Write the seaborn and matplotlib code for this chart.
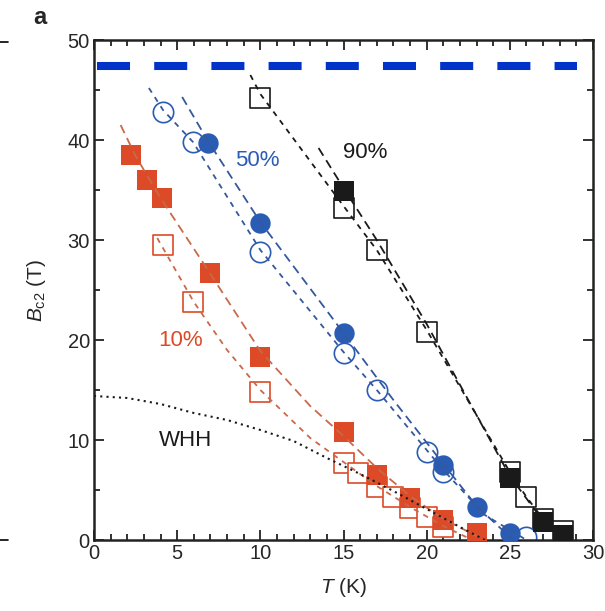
import matplotlib
matplotlib.use("Agg")
import matplotlib.pyplot as plt
import seaborn as sns
import pandas as pd
from matplotlib.lines import Line2D

# ---------------- data ----------------
# 10 % criterion (red)
t10_fill = [2.2, 3.2, 4.1, 7.0, 10.0, 15.0, 17.0, 19.0, 21.0, 23.0]
b10_fill = [38.5, 36.0, 34.2, 26.7, 18.3, 10.8, 6.5, 4.2, 2.0, 0.7]
t10_open = [4.15, 5.95, 10.0, 15.0, 15.9, 17.0, 18.0, 19.0, 20.0, 21.0]
b10_open = [29.5, 23.8, 14.8, 7.7, 6.7, 5.3, 4.3, 3.2, 2.3, 1.3]
# 50 % criterion (blue)
t50_fill = [6.85, 10.0, 15.0, 21.0, 23.0, 25.0]
b50_fill = [39.7, 31.7, 20.7, 7.5, 3.3, 0.7]
t50_open = [4.15, 5.95, 10.0, 15.0, 17.0, 20.0, 21.0, 26.0]
b50_open = [42.8, 39.8, 28.8, 18.7, 15.0, 8.8, 6.8, 0.3]
# 90 % criterion (black)
t90_fill = [15.0, 25.0, 27.0, 28.2]
b90_fill = [34.9, 6.2, 1.8, 0.5]
t90_open = [10.0, 15.0, 17.0, 20.0, 25.0, 26.0, 27.0, 28.2]
b90_open = [44.2, 33.2, 29.0, 20.8, 6.8, 4.3, 2.1, 0.9]

# dashed guide curves (vertices)
fit10f_t = [1.6, 2.5, 4.0, 7.0, 10.0, 13.0, 15.0, 17.0, 19.0, 21.0, 23.0]
fit10f_b = [41.5, 38.4, 34.2, 26.6, 18.9, 13.4, 10.4, 7.2, 4.4, 2.1, 0.4]
fit10o_t = [3.8, 6.0, 8.0, 10.0, 13.0, 15.0, 17.0, 19.0, 21.0, 22.5]
fit10o_b = [30.2, 23.8, 19.0, 15.0, 10.2, 7.8, 5.4, 3.3, 1.4, 0.2]
fit50f_t = [5.3, 6.85, 10.0, 15.0, 18.0, 21.0, 23.0, 25.2]
fit50f_b = [44.3, 39.9, 31.8, 20.7, 14.0, 7.6, 3.4, 0.0]
fit50o_t = [3.3, 4.15, 5.95, 10.0, 15.0, 17.0, 20.0, 21.0, 23.5, 26.0]
fit50o_b = [45.2, 43.0, 39.8, 29.0, 18.8, 15.0, 9.0, 7.0, 2.5, 0.0]
fit90o_t = [9.4, 10.0, 15.0, 17.0, 20.0, 25.0, 26.0, 27.0, 28.3]
fit90o_b = [46.5, 44.6, 33.4, 29.0, 21.0, 6.8, 4.3, 2.1, 0.3]
fit90f_t = [13.5, 15.0, 17.0, 20.0, 25.0, 27.0, 28.4]
fit90f_b = [39.2, 35.2, 30.0, 21.6, 6.4, 1.9, 0.0]
# WHH curve
whh_t = [0.0, 2.0, 4.0, 6.0, 8.0, 10.0, 12.0, 14.0, 16.0, 18.0, 20.0, 22.0, 23.5]
whh_b = [14.4, 14.2, 13.6, 12.7, 12.0, 11.0, 9.9, 8.2, 6.6, 4.9, 3.1, 1.3, 0.0]
# horizontal blue dashed level
hline_b = 47.4

# ---------------- style ----------------
sns.set_theme(style="ticks")
plt.rcParams["font.family"] = ["Liberation Sans", "DejaVu Sans"]
plt.rcParams["mathtext.fontset"] = "custom"
plt.rcParams["mathtext.it"] = "Liberation Sans:italic"
plt.rcParams["mathtext.rm"] = "Liberation Sans"

RED = "#dc4a27"
RED_LINE = "#c9694a"
BLUE = "#2b5cb4"
BLUE_LINE = "#34589c"
BLUE_TOP = "#0034c8"
BLACK = "#1a1a1a"

fig = plt.figure(figsize=(6.05, 6.11), dpi=100)
ax = fig.add_axes([94 / 605, 1 - 540 / 611, (593 - 94) / 605, (540 - 40) / 611])

MS = 215

def scat(t, b, color, marker, filled):
    df = pd.DataFrame({"T": t, "B": b})
    if filled:
        sns.scatterplot(data=df, x="T", y="B", ax=ax, marker=marker, s=MS,
                        color=color, edgecolor=color, linewidth=0, zorder=3)
    else:
        sns.scatterplot(data=df, x="T", y="B", ax=ax, marker=marker, s=MS,
                        facecolor="white", edgecolor=color, linewidth=1.2, zorder=2)

def line(t, b, color, dashes, lw=1.3, z=4):
    df = pd.DataFrame({"T": t, "B": b})
    sns.lineplot(data=df, x="T", y="B", ax=ax, color=color, lw=lw, sort=False,
                 estimator=None, linestyle=(0, dashes), zorder=z)

# open markers first, then filled
scat(t90_open, b90_open, BLACK, "s", False)
scat(t50_open, b50_open, BLUE, "o", False)
scat(t10_open, b10_open, RED, "s", False)
scat(t90_fill, b90_fill, BLACK, "s", True)
scat(t50_fill, b50_fill, BLUE, "o", True)
scat(t10_fill, b10_fill, RED, "s", True)

line(fit10f_t, fit10f_b, RED_LINE, (5, 3))
line(fit10o_t, fit10o_b, RED_LINE, (3, 3))
line(fit50f_t, fit50f_b, BLUE_LINE, (5, 3))
line(fit50o_t, fit50o_b, BLUE_LINE, (3, 3))
line(fit90f_t, fit90f_b, BLACK, (5, 3))
line(fit90o_t, fit90o_b, BLACK, (3, 3))
line(whh_t, whh_b, BLACK, (1, 2), lw=1.5)

ax.axhline(hline_b, xmin=3 / 499, xmax=483 / 499, color=BLUE_TOP, lw=5.8,
           linestyle=(0, (4.1, 3.0)), zorder=5)

# ---------------- axes ----------------
ax.set_xlim(0, 30)
ax.set_ylim(0, 50)
ax.set_xticks([0, 5, 10, 15, 20, 25, 30])
ax.set_yticks([0, 10, 20, 30, 40, 50])
ax.set_xticks(range(0, 31), minor=True)
ax.set_yticks(range(0, 51, 5), minor=True)
ax.tick_params(which="both", direction="in", top=True, right=True,
               width=1.3, color="#222222", labelsize=14.5, pad=3)
ax.tick_params(which="major", length=7)
ax.tick_params(which="minor", length=4)
for sp in ax.spines.values():
    sp.set_linewidth(1.8)
    sp.set_color("#222222")
    sp.set_visible(True)

ax.set_xlabel(r"$\mathit{T}$ (K)", fontsize=15, labelpad=9)
ax.set_ylabel(r"$\mathit{B}_{\mathrm{c2}}$ (T)", fontsize=15, labelpad=14)

ax.text(9.8, 38.0, "50%", color=BLUE, fontsize=16, ha="center", va="center")
ax.text(16.3, 38.7, "90%", color=BLACK, fontsize=16, ha="center", va="center")
ax.text(5.2, 19.9, "10%", color=RED, fontsize=16, ha="center", va="center")
ax.text(5.5, 10.0, "WHH", color=BLACK, fontsize=16, ha="center", va="center")

fig.text(40 / 605, 1 - 18 / 611, "a", fontsize=17, fontweight="bold",
         ha="center", va="center")
# small crop marks at the left edge
fig.add_artist(Line2D([0, 8 / 605], [1 - 42 / 611] * 2, color="black", lw=1.2))
fig.add_artist(Line2D([0, 8 / 605], [1 - 540 / 611] * 2, color="black", lw=1.2))

fig.savefig("out.png", dpi=100)
